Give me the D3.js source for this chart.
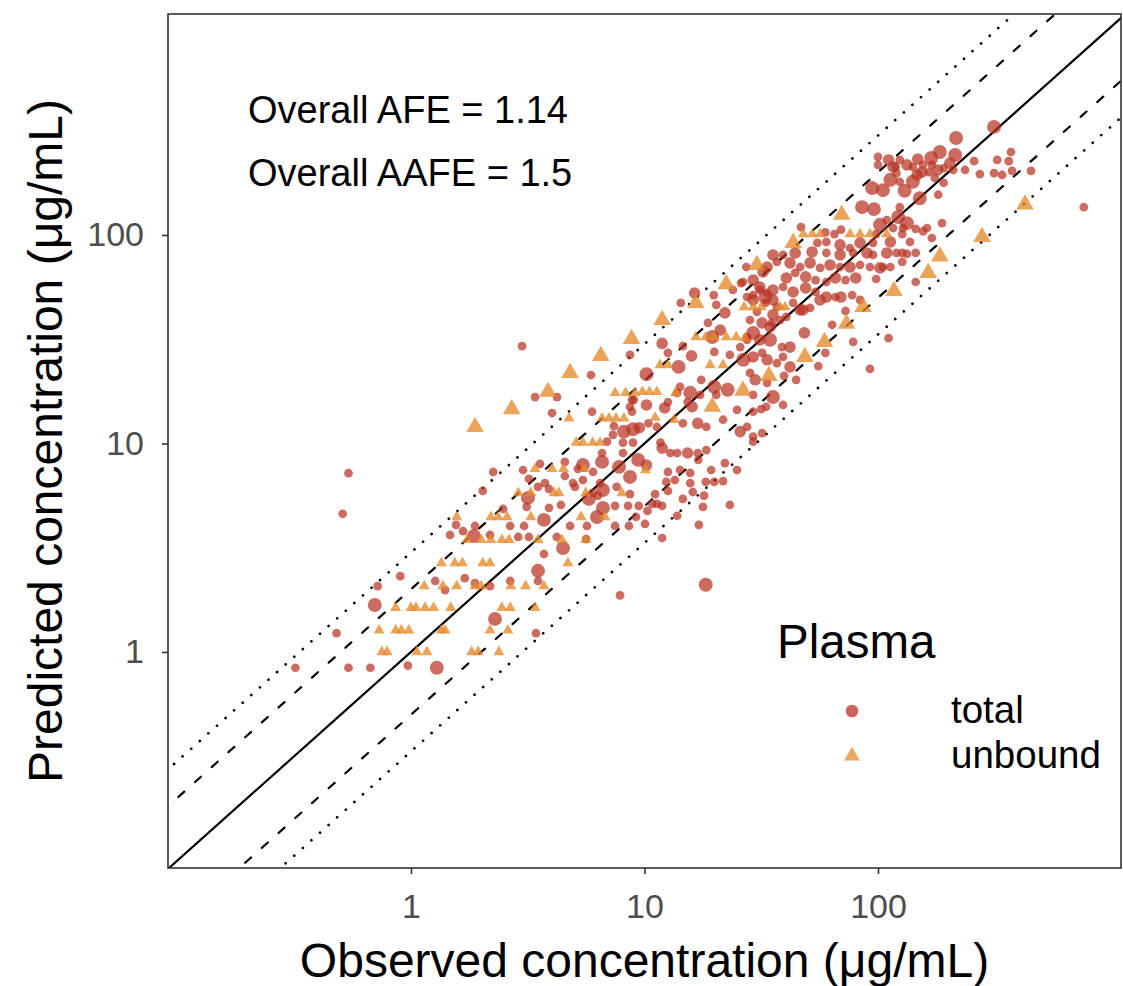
<!DOCTYPE html>
<html lang="en">
<head>
  <meta charset="UTF-8">
  <title>Observed vs predicted concentration</title>
  <style>
    body { margin: 0; background: #fff; }
    text { font-family: "Liberation Sans", Arial, Helvetica, sans-serif; }
  </style>
</head>
<body>

  <svg id="svg" width="1123" height="986"></svg>

  <script src="https://d3js.org/d3.v7.min.js"></script>
  <script>
    // total plasma concentrations (ug/mL)
    const totalObs = [
      0.54,0.51,1.56,1.67,1.47,1.86,0.9,1.27,1.70,1.88,
      1.40,0.72,0.70,0.48,0.32,0.54,0.67,0.97,1.29,2.18,
      2.66,3.5,3.5,2.29,3.43,7.86,3.4,4.22,4.02,5.96,
      8.84,8.84,7.4,8.17,8.93,6.91,7.33,8.09,8.93,6.58,
      8.09,6.58,5.45,5.19,3.57,4.56,2.25,3.02,4.56,7.78,
      8.67,3.2,3.75,4.94,5.45,5.04,3.5,3.9,2.03,3.17,
      5.78,6.64,6.32,3.13,3.9,4.39,2.48,7.48,6.64,6.26,
      3.71,2.66,3.05,4.8,5.67,7.48,1.88,2.18,2.88,3.2,
      4.21,5.62,4.48,3.71,15.7,18.3,21.7,12.4,8.67,11.1,
      12.6,14.6,16.1,18.0,17.8,23.2,8.5,9.45,10.8,11.3,
      11.9,10.3,9.2,8.58,10.05,13.8,17.1,11.9,18.3,25.9,
      23.9,31.2,33.5,35.5,29.2,32.9,14.3,16.4,19.8,20.3,
      22.1,36.9,35.2,31.9,29.2,18.7,21.1,27.5,25.7,8.67,
      11.9,12.6,14.6,15.9,19.9,23.2,26.5,29.2,31.9,14.0,
      10.2,5.9,28.3,17.5,14.2,13.8,19.9,22.7,15.7,17.3,
      35.5,9.0,10.2,8.67,12.6,12.2,15.3,16.0,24.9,29.2,
      10.4,9.5,11.3,14.6,16.9,18.4,21.7,25.7,27.5,29.2,
      31.9,11.7,11.9,12.9,13.8,15.3,16.9,18.4,17.0,9.4,
      10.2,6.02,12.6,14.2,15.7,19.3,22.1,24.9,29.2,6.45,
      6.0,7.6,13.5,19.9,20.3,19.5,85.4,96.1,124,122,
      133,102,46.8,59.5,65.1,69.4,98.2,127,145,55,
      60.1,68.8,75.9,83.8,95.2,113,137,35.5,39.2,44.2,
      52.2,60.1,68.8,78.3,89.7,95.2,109,120,127,33.5,
      36.9,42,46.4,51.2,56.5,62.3,68.8,75.9,83.8,92.4,
      102,113,98.2,145,32.2,27.3,40.5,44.2,49.0,54.0,
      60.1,65.7,72.6,80.3,26.4,29.2,31.2,35.5,39.2,43.3,
      49.0,54.0,60.1,65.7,69.4,77.5,83.8,32.9,27.5,29.2,
      43.3,46.4,51.2,56.5,72.6,35.5,40.5,47.7,30.3,28.3,
      34.5,38.1,63.6,48.4,34.5,27.5,31.2,38.8,42,39.2,
      78.3,111,33.5,36.9,42,59.5,55.5,92.4,29.8,29.2,
      39.2,33.2,31.6,39.6,44.6,33.5,314,216,184,214,
      169,170,111,124,133,141,148,156,165,180,
      191,203,210,258,324,363,371,116,120,147,
      154,236,273,314,340,375,452,141,130,105,
      113,124,175,191,151,181,188,109,761,116,
      128,156,162,170,133,145,127,105,100,100,
      119,94.3,2.99
    ]
    const totalPred = [
      7.2,4.6,4.07,3.8,3.64,3.6,2.31,2.19,2.26,2.14,
      1.98,2.07,1.68,1.23,0.84,0.84,0.84,0.86,0.84,2.07,
      2.19,2.19,2.45,1.44,1.23,1.87,16.7,16.7,14.0,14.2,
      16.2,14.2,12.1,11.4,11.7,10.2,11.0,10.1,10.1,9.0,
      9.0,8.16,7.88,7.55,7.98,8.16,7.3,7.46,6.98,7.72,
      6.91,6.76,6.46,6.46,6.68,6.19,6.19,6.05,5.92,5.48,
      5.42,5.98,5.62,4.96,4.91,5.07,4.85,5.02,4.91,4.44,
      4.3,4.02,4.02,4.02,4.02,4.02,4.02,3.64,3.56,3.56,
      3.56,3.48,3.15,2.95,6.46,6.54,6.6,6.54,5.72,5.72,
      5.92,5.42,5.85,5.62,4.96,5.07,5.02,5.02,5.13,5.13,
      5.02,4.75,4.44,4.02,4.11,4.5,4.07,3.52,2.1,58.8,
      54.5,56.3,52.7,48.8,51.5,47.2,47.2,52.7,51.5,46.2,
      42.3,45.2,37.9,37.9,33.9,37.9,35.0,32.4,29.0,26.6,
      30.2,27.2,29.3,26.3,27.5,26.6,25.2,26.0,27.2,23.3,
      21.5,21.3,21.8,20.2,18.7,17.5,18.7,18.1,17.5,17.1,
      16.7,16.2,15.3,15.0,15.8,14.8,15.8,15.0,14.5,14.2,
      12.5,11.9,12.0,12.5,12.5,12.0,13.0,11.4,12.0,10.8,
      11.2,10.1,9.5,9.0,9.0,9.0,9.0,9.3,8.34,8.34,
      7.88,7.3,7.3,7.46,7.22,7.46,8.05,7.46,10.2,6.46,
      5.79,6.19,6.68,6.54,17.1,32.4,136,133,136,122,
      114,112,109,103,101,106,101,101,107,91.6,
      92.6,89.6,86.6,91.6,91.6,92.6,92.6,80.2,80.2,82.0,
      82.9,82.0,80.2,82.0,82.0,80.2,82,82,82,70.2,
      74.3,73.5,70.2,73.5,69.5,71.8,70.2,70.2,71.8,70.2,
      69.5,70.2,61.5,59.5,66.5,70.2,62.2,65.8,63.0,60.8,
      59.5,62.2,60.8,62.2,59.5,60.8,54.5,54.5,56.3,53.3,
      55.7,53.3,50.4,50.4,50.4,51.5,48.8,50.4,50.4,48.8,
      47.2,43.7,44.7,48.8,43.2,41.4,40.5,43.7,42.8,39.1,
      36.2,39.1,37.1,33.9,31.4,31.4,31.4,29.0,29.0,26.0,
      30.7,32.0,25.2,24.3,23.3,27.2,23.5,22.8,20.2,17.1,
      15.3,15.0,14.6,21.1,20.2,19.5,330,292,250,242,
      234,217,229,229,217,212,231,217,200,205,
      209,221,205,226,229,226,250,212,198,194,
      200,205,196,198,194,203,203,180,163,164,
      184,180,188,178,150,156,114,118,136,108,
      108,104,108,96.7,81.1,82,74.3,70.2,237,217,
      212,168,29.3
    ]
    const totalSize = [
      1,1,1,1,1,3,1,1,1,1,
      1,1,3,1,1,1,1,1,3,1,
      1,1,3,3,1,1,1,1,1,1,
      1,1,1,3,3,1,1,1,1,1,
      1,3,3,1,1,1,1,1,1,3,
      3,1,1,1,1,1,1,1,1,3,
      3,3,1,1,1,1,1,1,3,3,
      3,1,1,1,1,1,1,1,1,1,
      1,1,3,1,1,1,1,1,1,1,
      1,1,1,1,1,1,1,1,1,1,
      1,1,1,1,1,1,1,1,3,1,
      1,2,1,2,1,1,1,2,1,1,
      2,1,1,2,3,1,2,1,1,1,
      2,1,1,2,1,1,3,2,1,3,
      3,1,1,1,1,1,3,3,3,1,
      3,1,2,1,1,2,1,2,1,1,
      1,2,1,1,2,1,1,2,1,1,
      1,1,2,1,1,2,1,1,1,3,
      2,1,1,1,1,1,1,1,1,1,
      1,1,1,1,1,3,3,3,1,3,
      3,3,1,1,1,1,1,1,1,1,
      1,2,1,2,1,2,1,2,1,2,
      2,1,2,1,2,1,2,1,1,2,
      1,2,1,2,1,2,1,2,1,1,
      2,1,1,1,2,1,2,1,2,1,
      1,2,1,2,1,2,1,2,1,2,
      2,1,2,1,2,1,1,3,1,2,
      1,2,1,2,1,2,1,2,1,1,
      2,1,1,2,3,1,2,1,2,1,
      1,1,2,1,2,1,1,1,2,1,
      1,1,1,1,1,1,3,3,3,3,
      3,1,2,1,2,1,2,1,1,2,
      1,2,1,1,1,1,1,2,1,2,
      2,1,1,1,1,1,1,3,3,3,
      3,1,1,1,3,1,1,1,1,1,
      1,1,1,1,1,1,1,1,1,1,
      1,3,1
    ]

    // unbound plasma concentrations (ug/mL)
    const unboundObs = [
      1.57,1.74,1.35,1.54,1.66,1.14,1.37,1.57,1.88,0.86,
      1.0,1.05,1.15,1.25,1.48,0.73,0.86,0.91,0.98,1.35,
      1.40,0.75,0.79,1.06,1.17,1.82,1.94,2.0,2.68,3.1,
      3.71,2.45,2.66,3.4,2.18,2.6,2.38,3.86,4.8,2.7,
      4.75,1.88,7.48,8.3,9.1,6.58,7.05,7.55,8.17,5.1,
      5.45,6.0,6.45,3.4,4.02,4.5,5.5,2.88,3.26,4.1,
      4.3,5.6,8.0,2.2,2.36,2.58,3.26,5.35,2.0,2.2,
      2.45,2.63,3.5,4.43,5.6,2.03,2.18,4.7,6.77,22.4,
      16.6,26.7,29.2,31.6,11.9,8.8,16.6,18.3,19.9,22.4,
      24.7,6.5,11.65,12.6,19.1,21.7,34.1,9.8,10.5,11.3,
      13.6,26.4,19.5,11.1,13.4,10.1,69.9,47.9,52.3,56.5,
      75.9,83.8,92.4,109,43.3,30.3,117,38.1,40.0,86.3,
      73.3,26.9,59,48.6,426,279,184,164
    ]
    const unboundPred = [
      4.44,3.45,2.67,2.67,2.67,2.07,2.07,2.07,2.07,1.63,
      1.63,1.63,1.63,1.63,1.63,1.27,1.27,1.27,1.27,1.27,
      1.27,1.0,1.0,1.0,1.0,1.0,1.0,2.07,2.07,2.07,
      2.07,1.63,1.63,1.63,1.27,1.27,1.0,17.7,21.8,14.6,
      13.2,12.0,17.5,17.5,17.5,13.2,13.2,13.2,13.2,10.1,
      10.1,10.1,10.1,7.55,7.55,7.55,7.55,5.79,5.79,5.79,
      5.79,5.79,5.79,4.44,4.44,4.44,4.44,4.44,3.45,3.45,
      3.45,3.45,3.45,3.45,3.45,2.67,2.67,2.67,4.44,58.1,
      47.2,45.1,45.1,45.1,39.1,31.7,32.4,32.4,32.4,32.4,
      32.4,26.3,23.8,23.8,23.8,23.8,21.1,17.7,17.7,17.7,
      17.5,17.9,15.0,13.3,13.0,7.46,125,101,101,101,
      101,101,101,101,91.6,71.8,53.9,45.1,45.1,45.2,
      37.5,32.0,30.7,26.0,140,97.8,79,65.8
    ]
    const unboundSize = [
      1,1,1,1,1,1,1,1,1,1,
      1,1,1,1,1,1,1,1,1,1,
      1,1,1,1,1,1,1,1,1,1,
      1,1,1,1,1,1,1,3,3,3,
      1,3,1,1,1,1,1,1,1,1,
      1,1,1,1,1,1,1,1,1,1,
      1,1,1,1,1,1,1,1,1,1,
      1,1,1,1,1,1,1,1,1,3,
      3,1,1,1,3,3,1,1,1,1,
      1,3,1,1,1,1,3,1,1,1,
      1,3,3,1,1,1,3,1,1,1,
      1,1,1,1,3,3,3,1,1,3,
      3,1,3,3,3,3,3,3
    ]

    const tickValues = [1, 10, 100]
    const foldFactors = [1, 2, 0.5, 3, 1 / 3]
    const statLines = ['Overall AFE = 1.14', 'Overall AAFE = 1.5']
    const groups = ['total', 'unbound']

    const total = totalObs.map((d, i) => ({ obs: d, pred: totalPred[i], size: totalSize[i] }))
    const unbound = unboundObs.map((d, i) => ({ obs: d, pred: unboundPred[i], size: unboundSize[i] }))

    const panel = { left: 168, right: 1121, top: 14, bottom: 868 }
    const font = '"Liberation Sans", Arial, Helvetica, sans-serif'

    const xScale = d3.scaleLog()
      .domain([0.0911, 1098])
      .range([panel.left, panel.right])
    const yScale = d3.scaleLog()
      .domain([0.092, 1148])
      .range([panel.bottom, panel.top])
    const areaScale = d3.scaleLinear()
      .domain([1, 3])
      .range([60, 152])
    const colorScale = d3.scaleOrdinal()
      .domain(groups)
      .range(['#b93223', '#e6892b'])
    const shapeScale = d3.scaleOrdinal()
      .domain(groups)
      .range([d3.symbolCircle, d3.symbolTriangle])
    // ggplot's filled triangle is drawn a little smaller than its circle
    const shapeArea = { total: 1, unbound: 0.88 }

    const svg = d3.select('#svg')
    svg.append('rect')
      .attr('width', 1123).attr('height', 986)
      .attr('fill', '#fff')

    svg.append('defs').append('clipPath')
      .attr('id', 'panel-clip')
      .append('rect')
      .attr('x', panel.left).attr('y', panel.top)
      .attr('width', panel.right - panel.left)
      .attr('height', panel.bottom - panel.top)

    // identity, 2-fold and 3-fold lines
    const lineGroup = svg.append('g').attr('clip-path', 'url(#panel-clip)')
    foldFactors.forEach(k => {
      const line = d3.line()
        .x(d => xScale(d))
        .y(d => yScale(d * k))
      const dotted = k === 3 || k === 1 / 3
      const dash = k === 1 ? null : (dotted ? '0.01,11.5' : '8,14.4')
      lineGroup.append('path')
        .attr('d', line([0.001, 100000]))
        .attr('fill', 'none')
        .attr('stroke', '#000')
        .attr('stroke-width', dotted ? 2.7 : 2.2)
        .attr('stroke-linecap', 'round')
        .attr('stroke-dasharray', dash)
    })

    // points
    const pointGroup = svg.append('g').attr('clip-path', 'url(#panel-clip)')
    const drawPoints = (data, group, opacity) => {
      pointGroup.append('g')
        .selectAll('path')
        .data(data)
        .enter()
        .append('path')
        .attr('transform', d => `translate(${xScale(d.obs)},${yScale(d.pred)})`)
        .attr('d', d => d3.symbol().type(shapeScale(group)).size(areaScale(d.size) * shapeArea[group])())
        .attr('fill', colorScale(group))
        .attr('fill-opacity', opacity)
    }
    drawPoints(total, 'total', 0.72)
    drawPoints(unbound, 'unbound', 0.78)

    // axes
    const xAxis = d3.axisBottom(xScale)
      .tickValues(tickValues)
      .tickFormat(d3.format('~g'))
      .tickSize(6)
      .tickPadding(20)
    const yAxis = d3.axisLeft(yScale)
      .tickValues(tickValues)
      .tickFormat(d3.format('~g'))
      .tickSize(6)
      .tickPadding(18)
    const styleAxis = g => {
      g.select('.domain').remove()
      g.selectAll('.tick line').attr('stroke', '#333').attr('stroke-width', 1.6)
      g.selectAll('.tick text')
        .attr('fill', '#4d4d4d')
        .style('font-size', '34px')
        .style('font-family', font)
    }
    svg.append('g')
      .attr('transform', `translate(0,${panel.bottom})`)
      .call(xAxis)
      .call(styleAxis)
    svg.append('g')
      .attr('transform', `translate(${panel.left},0)`)
      .call(yAxis)
      .call(styleAxis)

    // panel border
    svg.append('rect')
      .attr('x', panel.left).attr('y', panel.top)
      .attr('width', panel.right - panel.left)
      .attr('height', panel.bottom - panel.top)
      .attr('fill', 'none')
      .attr('stroke', '#333')
      .attr('stroke-width', 1.6)

    // axis titles
    svg.append('text')
      .text('Observed concentration (μg/mL)')
      .attr('x', (panel.left + panel.right) / 2)
      .attr('y', 977)
      .attr('text-anchor', 'middle')
      .style('font-size', '48px')
    svg.append('text')
      .text('Predicted concentration (μg/mL)')
      .attr('transform', `translate(62,${(panel.top + panel.bottom) / 2}) rotate(-90)`)
      .attr('text-anchor', 'middle')
      .style('font-size', '48px')

    // AFE / AAFE
    svg.append('g')
      .selectAll('text')
      .data(statLines)
      .enter()
      .append('text')
      .text(d => d)
      .attr('x', 248)
      .attr('y', (d, i) => 123 + i * 63)
      .style('font-size', '38px')

    // legend
    const legend = svg.append('g')
    legend.append('text')
      .text('Plasma')
      .attr('x', 777)
      .attr('y', 658)
      .style('font-size', '47.5px')
    const items = legend.selectAll('g.item')
      .data(groups)
      .enter()
      .append('g')
      .attr('class', 'item')
      .attr('transform', (d, i) => `translate(0,${i * 45})`)
    items.append('path')
      .attr('transform', 'translate(852,711)')
      .attr('d', d => d3.symbol().type(shapeScale(d)).size(125 * shapeArea[d])())
      .attr('fill', d => colorScale(d))
      .attr('fill-opacity', 0.75)
    items.append('text')
      .text(d => d)
      .attr('x', 951)
      .attr('y', 723)
      .style('font-size', '38.5px')
  </script>
</body>
</html>
